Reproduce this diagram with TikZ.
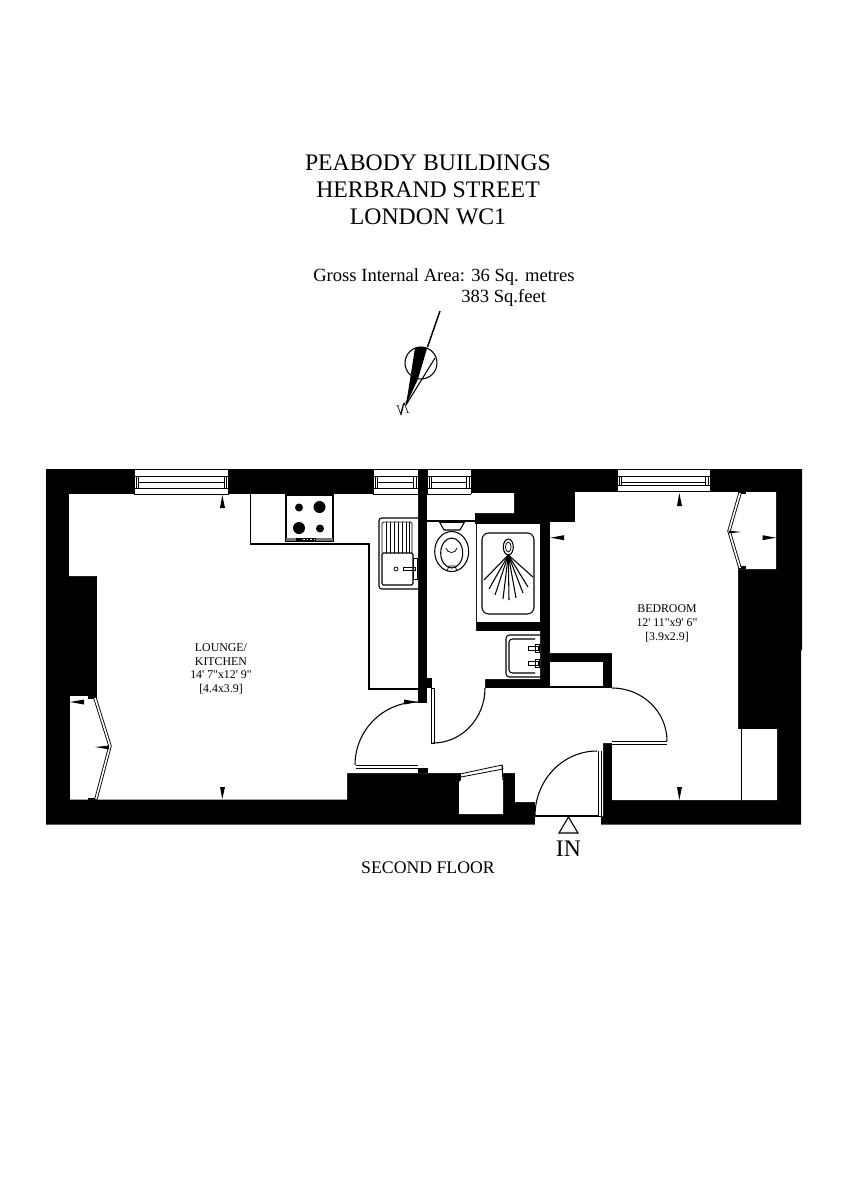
\documentclass[tikz,border=0pt]{standalone}
\usepackage{fontspec}
\newfontfamily\fp{Liberation Serif}
\tikzset{
  wall/.style={fill=black,draw=none},
  room/.style={fill=white,draw=none},
  thin line/.style={draw=black,line width=0.8pt},
  fine/.style={draw=black,line width=0.55pt},
  leaf/.style={draw=black,line width=0.65pt,double=white,double distance=1.2pt},
  mark arrow/.style={fill=black,draw=none},
  title/.style={font=\fp\fontsize{17.8pt}{20pt}\selectfont,inner sep=0pt,anchor=center},
  area/.style={font=\fp\fontsize{13.95pt}{16pt}\selectfont,inner sep=0pt,anchor=west},
  floorname/.style={font=\fp\fontsize{13.3pt}{16pt}\selectfont,inner sep=0pt},
  roomlabel/.style={font=\fp\fontsize{8.9pt}{10pt}\selectfont,inner sep=0pt}
}
\newcommand{\winbox}[4]{% x1 x2 y1 y2
  \fill[white] (#1,#3) rectangle (#2,#4);
  \draw[fine] (#1,#3) -- (#2,#3) (#1,#4) -- (#2,#4) (#1,#3) -- (#1,#4) (#2,#3) -- (#2,#4);
  \draw[fine] (#1,#3+7) -- (#2,#3+7) (#1,#4-6) -- (#2,#4-6);
  \draw[fine] (#1+4,#3+13) -- (#2-4,#3+13);
  \draw[fine] (#1+2,#3+7) -- (#1+2,#4-6) (#1+4.5,#3+7) -- (#1+4.5,#4-6);
  \draw[fine] (#2-2,#3+7) -- (#2-2,#4-6) (#2-4.5,#3+7) -- (#2-4.5,#4-6);
}
\begin{document}
\begin{tikzpicture}[x=0.75pt,y=-0.75pt]
\useasboundingbox (0,0) rectangle (848,1200);
\fill[white] (0,0) rectangle (848,1200);
% outer mass
\fill[wall] (46,469) -- (802,469) -- (802,650) -- (801,650) -- (801,824.5) -- (46,824.5) -- cycle;
% lounge
\fill[room] (69,494) -- (418,494) -- (418,773) -- (347,773) -- (347,799.5) -- (70,799.5) -- (70,696) -- (97,696) -- (97,576) -- (69,576) -- cycle;
% hall and WC
\fill[room] (427,493) -- (514,493) -- (514,513) -- (476,513) -- (476,631) -- (540,631) -- (540,679) -- (485,679) -- (485,688) -- (612,688) -- (612,743) -- (603,743) -- (603,816) -- (535,816) -- (535,802) -- (515,802) -- (515,773) -- (503,773) -- (503,814) -- (459,814) -- (459,782) -- (461,780) -- (461,773) -- (418,773) -- (418,768) -- (418,690) -- (427,690) -- cycle;
\fill[wall] (418,768) rectangle (428,773);
\fill[wall] (427,678) rectangle (432,688);
\fill[wall] (418,688) rectangle (427,703);
% shower
\fill[room] (477,524) rectangle (540,622);
% cupboard
\fill[room] (550,662) rectangle (603,688);
\draw[thin line] (550,687) -- (603,687);
% bedroom
\fill[room] (575,492) -- (776,492) -- (776,569) -- (738,569) -- (738,729) -- (777,729) -- (777,800) -- (612,800) -- (612,653) -- (550,653) -- (550,522) -- (575,522) -- cycle;
\draw[fine] (741,729) -- (741,800);
% entrance gap
\fill[room] (535,816) rectangle (601,826);
\draw[thin line] (535,816) -- (601,816);
\draw[thin line] (476,513) -- (476,524);
% windows
\winbox{134}{228.5}{469}{494}
\winbox{373}{418}{469}{494}
\winbox{427}{471}{469}{494}
\winbox{617}{710}{469}{491.5}
% kitchen units
\draw[thin line] (250.5,494) -- (250.5,544) -- (369,544) -- (369,689) -- (418,689);
\draw[thin line] (286,495) rectangle (333,541);
\fill[black!55] (286,537.5) rectangle (333,541);
\fill[black] (296,538) rectangle (316,541);
\foreach \dx in {303,306.5,310,313.5} \fill[white] (\dx,538.6) rectangle ++(1.8,1.8);
\fill[black] (299,507.5) circle[radius=4];
\fill[black] (319.5,507) circle[radius=6];
\fill[black] (299,528) circle[radius=6];
\fill[black] (320,528.5) circle[radius=4];
% sink
\draw[thin line,rounded corners=2pt] (418,518) -- (379,518) -- (379,589) -- (418,589);
\draw[fine,rounded corners=1pt] (382,553) -- (382,522) -- (412,522) -- (412,553);
\foreach \rx in {386,390,394,398,402,406,409} \draw[fine] (\rx,522) -- (\rx,553);
\draw[thin line,rounded corners=1pt] (382,553) -- (413,553) -- (413,585) -- (382,585) -- cycle;
\draw[fine] (396,569) circle[radius=2];
\draw[fine] (403,567) rectangle (415,570);
\draw[fine] (413,558) rectangle (417,579);
% WC
\draw[thin line] (427,521) -- (476,521);
\draw[thin line] (439,521) -- (444,530) -- (460,530) -- (465,521);
\draw[fine] (439.5,522.5) -- (464.5,522.5);
\draw[thin line] (451.7,551.5) ellipse[x radius=17,y radius=20];
\draw[thin line] (451.7,553) ellipse[x radius=11,y radius=15];
\draw[fine] (446,548) .. controls (447,554) and (456,554) .. (457,548);
\draw[fine] (447,571) -- (449,566) -- (455,566) -- (457,571);
% shower tray
\draw[thin line,rounded corners=5pt] (482,533) rectangle (534,614);
\draw[thin line] (508.3,547) ellipse[x radius=5,y radius=8];
\draw[fine] (508.3,547) ellipse[x radius=2.8,y radius=5];
\foreach \ex/\ey in {484/580,489/589,495/595,503/599,509/600,516/598,523/593,528/587,533/577}
  \draw[thin line] (508.3,555) -- (\ex,\ey);
% basin
\draw[thin line,rounded corners=2.5pt] (541,635) -- (506,635) -- (506,677) -- (541,677);
\draw[thin line,rounded corners=2.5pt] (535,639) -- (509,639) -- (509,673) -- (535,673);
\draw[fine] (528,646) rectangle (538,650);
\draw[fine] (528,661) rectangle (538,665);
\draw[fine] (535,644) rectangle (539,652);
\draw[fine] (535,659) rectangle (539,667);
% doors
\draw[thin line] (355,765) .. controls (355,730.2) and (383.2,702) .. (418,702);
\draw[leaf] (356,767) -- (418,767);
\draw[thin line] (433,743) .. controls (461.7,743) and (485,718.4) .. (485,688);
\draw[fine] (431,688) rectangle (434,743);
\draw[thin line] (667,741) .. controls (667,711.7) and (642.4,688) .. (612,688);
\draw[leaf] (612,743) -- (667,743);
\draw[thin line] (535,816) .. controls (535,780) and (562.8,751) .. (597,751);
\draw[leaf] (600,751) -- (600,816);
% store door
\fill[white,draw=black,line width=0.6pt] (460,774) -- (502,765) -- (503,769) -- (461,777) -- cycle;
\draw[thin line] (502,765) -- (503,780);
% bay shutters, lounge
\fill[wall] (88,696) rectangle (97,699);
\fill[wall] (88,798) rectangle (97,800);
\draw[leaf] (95,698) -- (110,746) -- (96,799);
\fill[black] (95,747) -- (109.5,745.5) -- (108.5,747.5) -- (109.5,749.5) -- cycle;
% bay shutters, bedroom
\fill[wall] (738,492) rectangle (746,494);
\fill[wall] (738,566) rectangle (746,569);
\draw[leaf] (740,493) -- (729,531) -- (740,568);
\fill[black] (741,532) -- (728,530.5) -- (729.5,532) -- (728,533.5) -- cycle;
% dimension ticks
\fill[mark arrow] (222.3,495) -- (225,508) -- (220,508) -- cycle;
\fill[mark arrow] (222.3,799) -- (225,787) -- (220,787) -- cycle;
\fill[mark arrow] (70,702) -- (84,699.5) -- (84,704.5) -- cycle;
\fill[mark arrow] (418,702) -- (404,699.5) -- (404,704.5) -- cycle;
\fill[mark arrow] (679.3,493) -- (682,506) -- (677,506) -- cycle;
\fill[mark arrow] (679.3,800) -- (682,787) -- (677,787) -- cycle;
\fill[mark arrow] (550.5,537.7) -- (564,535.2) -- (564,540.2) -- cycle;
\fill[mark arrow] (776,537.7) -- (762.5,535.2) -- (762.5,540.2) -- cycle;
% compass
\draw[thin line] (421,363) circle[radius=16];
\draw[line width=1.1pt] (440,311) -- (427.5,347);
\fill[black] (406,405) -- (415,348) .. controls (418,346.6) and (423,346.8) .. (427,348.5) -- (418,379) -- cycle;
\draw[thin line] (406,405) -- (435,358);
\draw[thin line] (406,405) -- (413,377);
\node[font=\fp\fontsize{12pt}{12pt}\selectfont,inner sep=0pt,rotate=20,xscale=-1] (north) at (403,410) {N};
% entry mark
\draw[line width=0.8pt,fill=white] (568.5,817) -- (578,833) -- (559,833) -- cycle;
% text
\node[title] (t1) at (428,163) {PEABODY BUILDINGS};
\node[title] (t2) at (428,190) {HERBRAND STREET};
\node[title] (t3) at (428,217) {LONDON WC1};
\node[area] (a1) at (313,277.5) {Gross Internal Area: 36 Sq. metres};
\node[area] (a2) at (461,298) {383 Sq.feet};
\node[floorname] (sf) at (428,868) {SECOND FLOOR};
\node[title] (in) at (568.5,849) {IN};
\node[roomlabel] (l1) at (221,648) {LOUNGE/};
\node[roomlabel] (l2) at (221,661.5) {KITCHEN};
\node[roomlabel] (l3) at (221,675) {14' 7"x12' 9"};
\node[roomlabel] (l4) at (221,689) {[4.4x3.9]};
\node[roomlabel] (b1) at (667,609) {BEDROOM};
\node[roomlabel] (b2) at (667,623) {12' 11"x9' 6"};
\node[roomlabel] (b3) at (667,637) {[3.9x2.9]};
\end{tikzpicture}
\end{document}
